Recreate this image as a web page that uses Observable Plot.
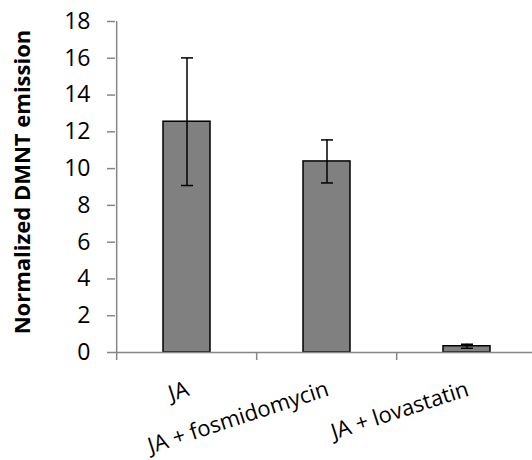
<!DOCTYPE html>
<html>
<head>
<meta charset="utf-8">
<script src="https://cdn.jsdelivr.net/npm/d3@7"></script>
<script src="https://cdn.jsdelivr.net/npm/@observablehq/plot@0.6"></script>
<style>
  html, body { margin: 0; padding: 0; background: #fff; }
  #chart svg { display: block; }
</style>
</head>
<body>
<div id="chart"></div>
<script>
const categories = ["JA", "JA + fosmidomycin", "JA + lovastatin"];
const means = [12.55, 10.39, 0.34];
const errors = [3.47, 1.17, 0.11];
const yTicks = [0, 2, 4, 6, 8, 10, 12, 14, 16, 18];
const yLabel = "Normalized DMNT emission";

const data = categories.map((c, i) => ({cat: c, mean: means[i], err: errors[i]}));

const W = 532, H = 460;
const xRange = [115, 537];
const step = (xRange[1] - xRange[0]) / categories.length;
const axisGray = "#868686";
const font = "'Open Sans', sans-serif";

const capSymbol = {
  draw(context, size) {
    context.moveTo(-6, 0);
    context.lineTo(6, 0);
  }
};

const chart = Plot.plot({
  width: W,
  height: H,
  marginLeft: 115,
  marginRight: 0,
  marginTop: 21,
  marginBottom: 108,
  style: {fontFamily: font, background: "#fff", overflow: "visible"},
  x: {domain: categories, range: xRange, paddingInner: 0.667, paddingOuter: 0.3335, align: 0.5, axis: null},
  y: {domain: [0, 18], axis: null},
  marks: [
    Plot.barY(data, {x: "cat", y: "mean", fill: "#808080", stroke: "#000", strokeWidth: 1.5}),
    Plot.ruleX(data, {x: "cat", y1: d => d.mean - d.err, y2: d => d.mean + d.err, stroke: "#000", strokeWidth: 1.5}),
    Plot.dot(data, {x: "cat", y: d => d.mean + d.err, symbol: capSymbol, stroke: "#000", strokeWidth: 1.5, fill: "none"}),
    Plot.dot(data, {x: "cat", y: d => d.mean - d.err, symbol: capSymbol, stroke: "#000", strokeWidth: 1.5, fill: "none"}),
    // x axis line
    Plot.ruleY([0], {stroke: axisGray, strokeWidth: 1.5, clip: false}),
    // y axis line
    Plot.ruleX([categories[0]], {y1: 0, y2: 18, dx: -step / 2, stroke: axisGray, strokeWidth: 1.5}),
    // y ticks and labels
    Plot.axisY({ticks: yTicks, tickSize: 8, tickPadding: 17, stroke: axisGray, strokeWidth: 1.5, fill: "#000", fontSize: 23, label: null}),
    // x axis ticks at category boundaries
    Plot.axisX({tickSize: 8, tickFormat: null, dx: -step / 2, stroke: axisGray, strokeWidth: 1.5, label: null}),
    // x category labels
    Plot.text(categories, {x: d => d, frameAnchor: "bottom", dy: 36, dx: 1, rotate: -18, textAnchor: "end", lineAnchor: "middle", fontSize: 22, fill: "#000"}),
    // y axis title
    Plot.text([yLabel], {frameAnchor: "left", dx: -93, dy: -5, rotate: -90, textAnchor: "middle", lineAnchor: "middle", fontSize: 22, fontWeight: "bold", fill: "#000"})
  ]
});

document.getElementById("chart").appendChild(chart);
</script>
</body>
</html>
